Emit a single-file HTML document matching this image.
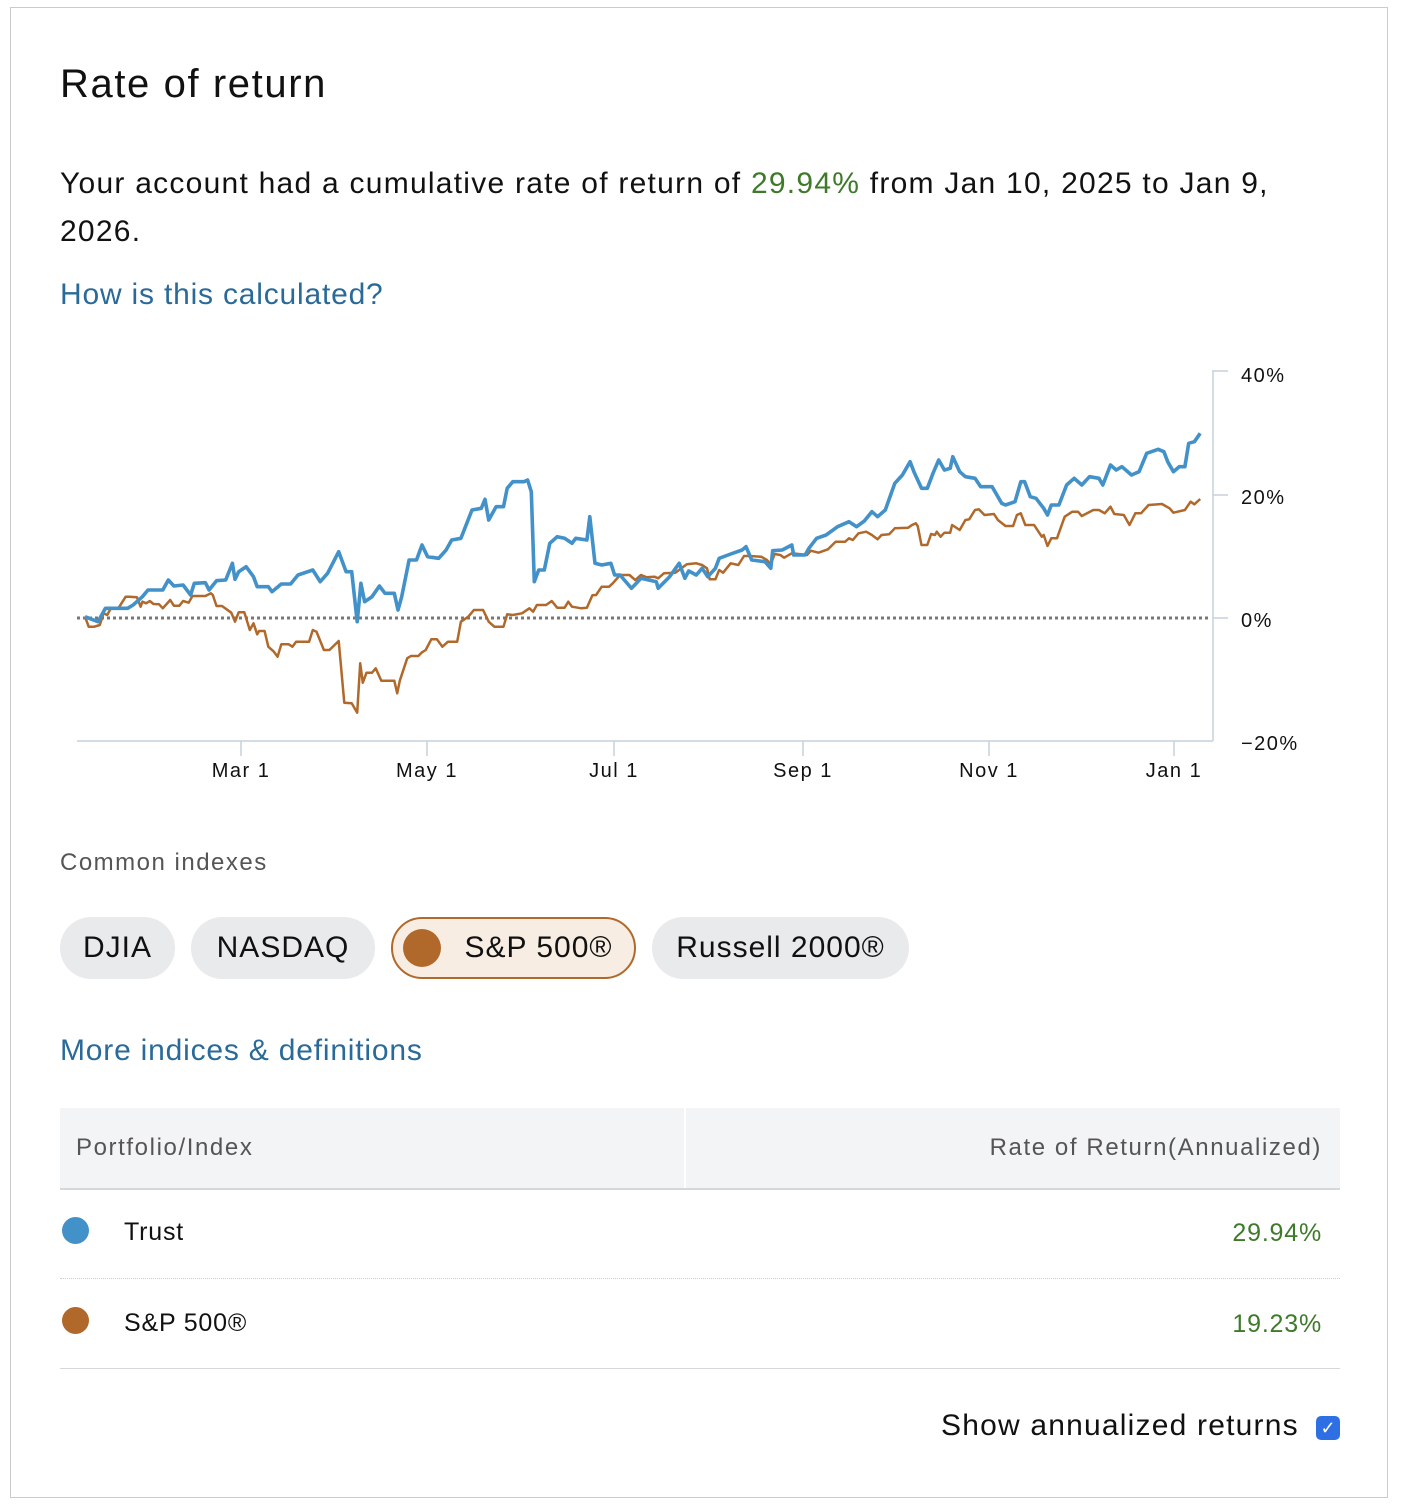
<!DOCTYPE html>
<html><head><meta charset="utf-8"><style>
body{margin:0;width:1404px;height:1510px;background:#fff;font-family:"Liberation Sans",Arial,sans-serif;color:#111;position:relative;overflow:hidden}
.card{position:absolute;left:10px;top:7px;width:1378px;height:1491px;border:1px solid #c9cbcf;box-sizing:border-box}
.a{position:absolute;white-space:nowrap}
.chip{position:absolute;top:917px;height:62px;border-radius:31px;background:#e9eaec;font-size:30px;line-height:62px;text-align:center;box-sizing:border-box}
</style></head><body>
<div class="card"></div>
<div class="a" style="left:60px;top:62px;font-size:40px;letter-spacing:1.6px">Rate of return</div>
<div class="a" style="left:60px;top:160px;font-size:30px;line-height:48px;letter-spacing:1.25px">Your account had a cumulative rate of return of <span style="color:#3e7a2a">29.94%</span> from Jan 10, 2025 to Jan 9,<br>2026.</div>
<div class="a" style="left:60px;top:278px;font-size:30px;color:#2a6a99;letter-spacing:0.8px">How is this calculated?</div>
<svg class="a" style="left:0;top:0" width="1404" height="800">
<g stroke="#c6d0dc" stroke-width="1.5" fill="none">
<line x1="77" y1="741" x2="1213" y2="741"/><line x1="1213" y1="370" x2="1213" y2="741"/>
<line x1="1213" y1="371" x2="1228" y2="371"/><line x1="1213" y1="495" x2="1228" y2="495"/><line x1="1213" y1="618" x2="1228" y2="618"/>
<line x1="241" y1="741" x2="241" y2="756"/><line x1="427" y1="741" x2="427" y2="756"/><line x1="614" y1="741" x2="614" y2="756"/><line x1="803" y1="741" x2="803" y2="756"/><line x1="989" y1="741" x2="989" y2="756"/><line x1="1174" y1="741" x2="1174" y2="756"/>
</g>
<line x1="77" y1="618" x2="1210" y2="618" stroke="#777" stroke-width="3" stroke-dasharray="3,3"/>
<g font-size="20" fill="#111" font-family="Liberation Sans,sans-serif" letter-spacing="1.5">
<text x="1241" y="382">40%</text><text x="1241" y="504">20%</text><text x="1241" y="627">0%</text><text x="1241" y="750">−20%</text>
<g text-anchor="middle"><text x="241" y="777">Mar 1</text><text x="427" y="777">May 1</text><text x="614" y="777">Jul 1</text><text x="803" y="777">Sep 1</text><text x="989" y="777">Nov 1</text><text x="1174" y="777">Jan 1</text></g>
</g>
<polyline id="or" fill="none" stroke="#b0692a" stroke-width="2.5" stroke-linejoin="round"/>
<polyline id="bl" fill="none" stroke="#4391c9" stroke-width="3.6" stroke-linejoin="round"/>
</svg>
<div class="a" style="left:60px;top:849px;font-size:24px;color:#555;letter-spacing:1.5px">Common indexes</div>
<div class="chip" style="left:60px;width:115px;letter-spacing:1px">DJIA</div>
<div class="chip" style="left:191px;width:184px;letter-spacing:1px">NASDAQ</div>
<div class="chip" style="left:391px;width:245px;background:#f8ede3;border:2px solid #b0692a;line-height:58px;padding-left:50px;letter-spacing:1px">S&amp;P 500®<span style="position:absolute;left:10px;top:10px;width:38px;height:38px;border-radius:50%;background:#b0692a"></span></div>
<div class="chip" style="left:652px;width:257px;letter-spacing:1px">Russell 2000®</div>
<div class="a" style="left:60px;top:1034px;font-size:30px;color:#2a6a99;letter-spacing:0.8px">More indices &amp; definitions</div>
<div class="a" style="left:60px;top:1108px;width:1280px;height:80px;background:#f3f4f6;border-bottom:2px solid #d5d7da"></div>
<div class="a" style="left:684px;top:1108px;width:2px;height:80px;background:#fff"></div>
<div class="a" style="left:76px;top:1134px;font-size:24px;color:#555;letter-spacing:1.6px">Portfolio/Index</div>
<div class="a" style="right:82px;top:1134px;font-size:24px;color:#555;letter-spacing:1.6px">Rate of Return(Annualized)</div>
<div class="a" style="left:62px;top:1217px;width:27px;height:27px;border-radius:50%;background:#4391c9"></div>
<div class="a" style="left:124px;top:1218px;font-size:25px;letter-spacing:0.8px">Trust</div>
<div class="a" style="right:82px;top:1219px;font-size:25px;color:#3e7a2a;letter-spacing:0.8px">29.94%</div>
<div class="a" style="left:60px;top:1278px;width:1280px;border-top:1px dotted #ccc"></div>
<div class="a" style="left:62px;top:1307px;width:27px;height:27px;border-radius:50%;background:#b0692a"></div>
<div class="a" style="left:124px;top:1309px;font-size:25px;letter-spacing:0.8px">S&amp;P 500®</div>
<div class="a" style="right:82px;top:1310px;font-size:25px;color:#3e7a2a;letter-spacing:0.8px">19.23%</div>
<div class="a" style="left:60px;top:1368px;width:1280px;border-top:1px solid #d5d7da"></div>
<div class="a" style="left:941px;top:1409px;font-size:30px;letter-spacing:1.2px">Show annualized returns</div>
<div class="a" style="left:1316px;top:1416px;width:24px;height:24px;border-radius:5px;background:#2f6fe4;color:#fff;font-size:18px;line-height:24px;text-align:center">✓</div>
<script>
function conv(a,b,c){var r=[];for(var i=0;i<a.length;i+=2){var x=a[i],y=a[i+1];if(b=='1'){x=85+(x-45)/2.7;if(x>=620)continue;y=440+y/3}else{x=620+x/2.62;y=410+y/3}r.push(x.toFixed(1)+','+y.toFixed(1))}return r}
var b1=[45,530,80,545,100,505,135,505,160,505,175,495,200,470,215,450,255,450,270,420,285,438,310,435,330,465,340,430,370,428,380,450,400,422,425,420,443,370,450,418,460,395,480,380,500,410,510,440,540,440,550,455,575,432,600,432,620,405,660,390,680,425,700,400,730,335,750,395,765,395,780,545,790,430,800,485,820,470,840,438,855,460,880,460,890,510,900,470,920,360,940,360,955,315,970,350,1000,355,1020,330,1035,300,1060,295,1090,210,1115,205,1125,178,1135,240,1155,200,1175,200,1185,145,1200,125,1230,125,1240,120,1250,155,1258,425,1270,390,1285,390,1300,310,1320,290,1340,295,1360,310,1370,295,1400,300,1408,230,1422,370,1440,375,1465,370,1475,405,1510,410,1520,450,1530,450,1545,415,1568,425];
var b2=[0,495,30,535,55,505,95,515,100,535,130,500,155,460,170,505,180,483,200,495,215,475,230,500,250,475,260,445,290,432,320,420,330,410,345,450,380,455,395,475,400,422,425,420,450,405,455,435,485,435,495,415,515,385,540,375,570,350,600,335,620,350,640,333,660,305,675,320,695,300,720,220,740,195,760,155,770,185,790,235,805,235,820,190,835,150,850,180,865,175,872,140,890,185,905,200,930,205,945,230,975,230,1000,280,1010,285,1035,275,1050,215,1060,215,1075,260,1090,265,1110,295,1120,315,1130,285,1150,285,1170,225,1190,205,1210,225,1230,200,1255,205,1265,225,1285,165,1300,180,1315,170,1340,195,1360,185,1380,130,1410,118,1425,125,1435,155,1450,185,1465,170,1480,170,1490,100,1505,95,1520,70];
var o1=[45,530,55,560,70,560,85,555,95,520,105,525,115,505,135,505,155,470,165,470,185,472,195,500,200,485,210,490,220,483,230,492,245,493,255,505,275,480,285,497,300,497,310,483,325,488,335,468,370,468,385,460,390,465,400,498,415,498,440,518,450,545,460,517,475,517,490,570,500,550,510,583,515,573,530,573,540,620,555,635,565,650,575,613,595,613,605,620,615,605,650,605,660,570,670,575,690,630,705,630,730,603,745,788,765,790,780,818,788,670,795,728,805,698,820,698,830,685,845,722,880,722,888,760,895,722,915,655,925,648,945,648,955,637,965,630,980,598,995,598,1010,620,1025,605,1050,605,1060,545,1080,530,1095,510,1120,510,1135,545,1150,560,1175,560,1185,523,1200,525,1225,520,1245,505,1255,515,1265,495,1290,495,1305,483,1320,503,1340,503,1350,485,1360,500,1385,505,1400,503,1415,466,1425,465,1440,440,1460,440,1470,430,1490,405,1510,405,1525,423,1545,407,1568,410];
var o2=[0,495,25,495,40,510,55,495,70,502,90,500,100,505,115,490,145,488,175,463,200,460,215,465,228,475,235,508,250,508,260,480,270,488,290,460,310,465,325,438,340,438,370,440,385,450,395,463,405,432,420,435,430,443,450,430,490,435,500,422,520,428,545,418,565,395,590,395,600,385,610,390,625,370,645,365,660,375,675,388,685,375,705,373,720,355,755,353,765,345,775,340,780,348,790,405,805,405,815,372,825,375,830,365,840,380,850,368,865,368,870,345,890,360,905,330,915,328,930,300,940,298,955,315,980,312,990,330,1010,348,1030,348,1040,315,1050,310,1062,345,1085,345,1105,380,1110,375,1120,408,1130,385,1145,385,1165,320,1185,305,1200,305,1210,318,1240,300,1255,300,1270,310,1285,290,1295,312,1320,315,1335,345,1350,310,1365,310,1385,285,1420,282,1440,295,1450,308,1480,300,1495,275,1505,283,1520,267];
document.getElementById('bl').setAttribute('points',conv(b1,'1').concat(conv(b2,'2')).join(' '));
document.getElementById('or').setAttribute('points',conv(o1,'1').concat(conv(o2,'2')).join(' '));
</script>
</body></html>
